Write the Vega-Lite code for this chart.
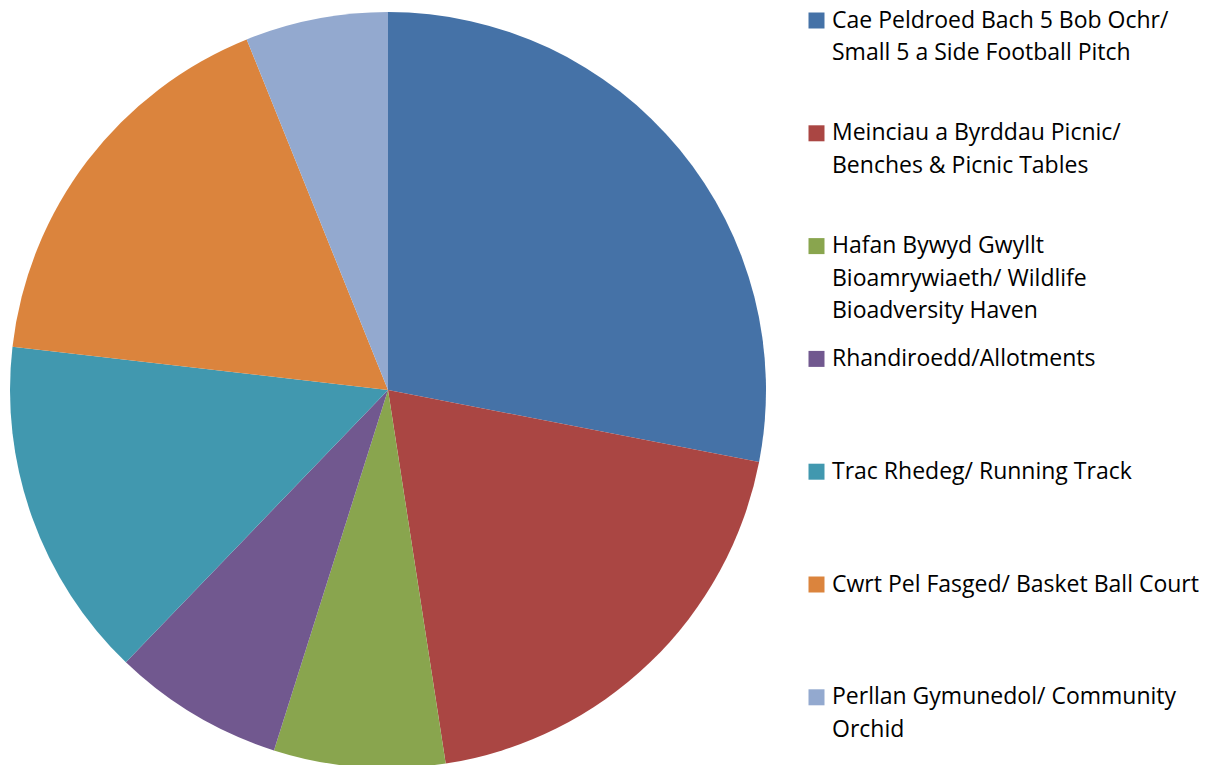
{
  "$schema": "https://vega.github.io/schema/vega-lite/v6.json",
  "width": 776,
  "height": 756,
  "padding": {"left": 0, "top": 9, "right": 0, "bottom": 0},
  "background": "white",
  "data": {
    "values": [
      {"category": "Cae Peldroed Bach 5 Bob Ochr/|Small 5 a Side Football Pitch| ", "order": 1, "value": 23},
      {"category": "Meinciau a Byrddau Picnic/|Benches & Picnic Tables| ", "order": 2, "value": 16},
      {"category": "Hafan Bywyd Gwyllt|Bioamrywiaeth/ Wildlife|Bioadversity Haven", "order": 3, "value": 6},
      {"category": "Rhandiroedd/Allotments| | ", "order": 4, "value": 6},
      {"category": "Trac Rhedeg/ Running Track| | ", "order": 5, "value": 12},
      {"category": "Cwrt Pel Fasged/ Basket Ball Court| | ", "order": 6, "value": 14},
      {"category": "Perllan Gymunedol/ Community|Orchid| ", "order": 7, "value": 5}
    ]
  },
  "mark": {"type": "arc", "stroke": null},
  "encoding": {
    "theta": {"field": "value", "type": "quantitative", "stack": true},
    "order": {"field": "order", "type": "quantitative"},
    "color": {
      "field": "category",
      "type": "nominal",
      "sort": {"field": "order"},
      "scale": {
        "domain": [
          "Cae Peldroed Bach 5 Bob Ochr/|Small 5 a Side Football Pitch| ",
          "Meinciau a Byrddau Picnic/|Benches & Picnic Tables| ",
          "Hafan Bywyd Gwyllt|Bioamrywiaeth/ Wildlife|Bioadversity Haven",
          "Rhandiroedd/Allotments| | ",
          "Trac Rhedeg/ Running Track| | ",
          "Cwrt Pel Fasged/ Basket Ball Court| | ",
          "Perllan Gymunedol/ Community|Orchid| "
        ],
        "range": ["#4572A7", "#AA4643", "#89A54E", "#71588F", "#4198AF", "#DB843D", "#93A9CF"]
      },
      "legend": {
        "title": null,
        "orient": "none",
        "legendX": 805,
        "legendY": -3,
        "symbolType": "square",
        "symbolSize": 256,
        "symbolStrokeWidth": 0,
        "symbolOpacity": 1,
        "labelFont": "Open Sans",
        "labelFontSize": 23,
        "labelColor": "#000000",
        "labelLimit": 0,
        "labelBaseline": "top",
        "labelOffset": 4,
        "rowPadding": 23.8,
        "labelExpr": "split(datum.label, '|')"
      }
    }
  },
  "config": {
    "view": {"stroke": null},
    "style": {"guide-label": {"lineHeight": 32.5, "dy": -11}}
  }
}
